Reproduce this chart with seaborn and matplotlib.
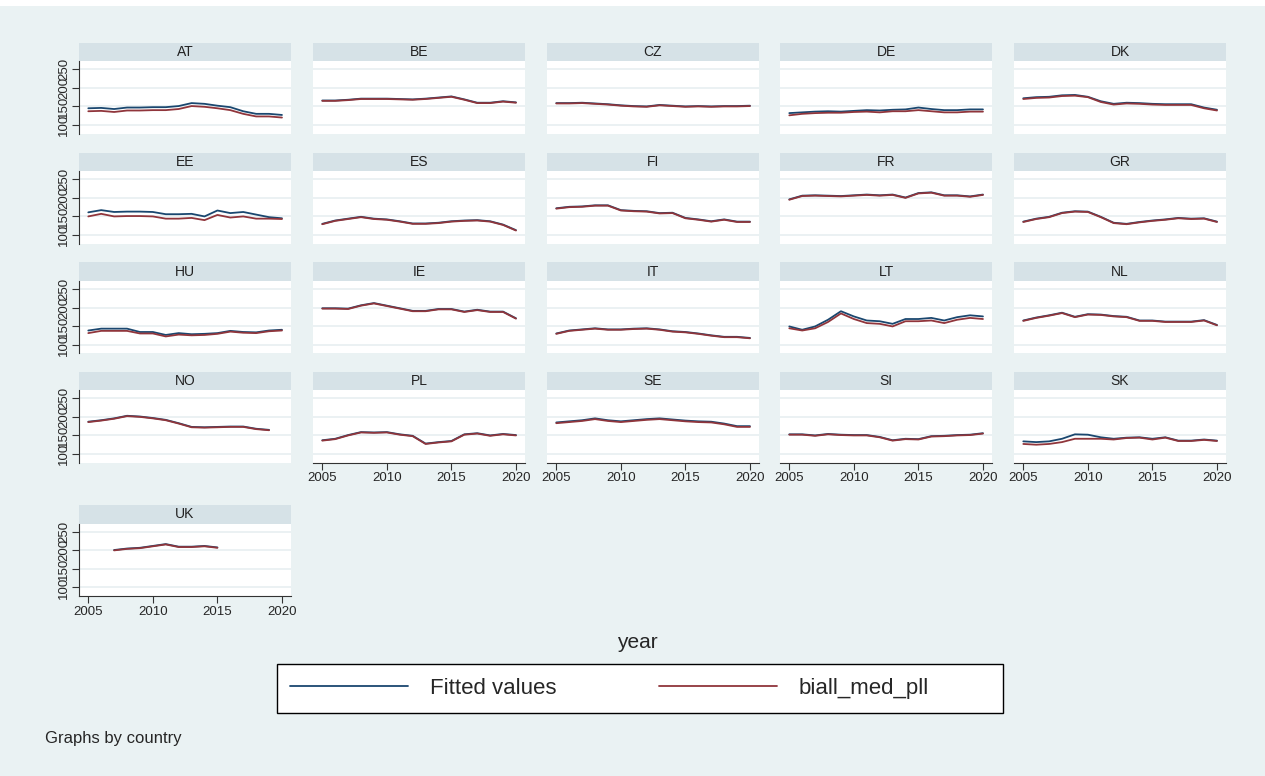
import matplotlib
matplotlib.use("Agg")
import matplotlib.pyplot as plt
import seaborn as sns
import pandas as pd
from matplotlib.lines import Line2D
from matplotlib.patches import Rectangle

# Data (index values per country, 2005-2020)
years = list(range(2005, 2021))
countries = ["AT", "BE", "CZ", "DE", "DK", "EE", "ES", "FI", "FR", "GR",
             "HU", "IE", "IT", "LT", "NL", "NO", "PL", "SE", "SI", "SK", "UK"]
series_names = ["Fitted values", "biall_med_pll"]

AT_fit = [145, 146, 143, 147, 147, 148, 148, 151, 159, 157, 152, 148, 137, 130, 130, 127]
AT_med = [137, 138, 135, 139, 139, 140, 140, 143, 151, 149, 145, 140, 130, 123, 123, 120]
BE_fit = [166, 166, 168, 171, 171, 171, 170, 169, 171, 174, 177, 169, 160, 160, 164, 161]
BE_med = [165, 165, 167, 170, 170, 170, 169, 168, 170, 173, 176, 168, 159, 159, 163, 160]
CZ_fit = [159, 159, 160, 158, 156, 153, 151, 150, 154, 152, 150, 151, 150, 151, 151, 152]
CZ_med = [158, 158, 159, 157, 155, 152, 150, 149, 153, 151, 149, 150, 149, 150, 150, 151]
DE_fit = [132, 134, 136, 137, 136, 138, 140, 139, 141, 142, 147, 143, 140, 140, 142, 142]
DE_med = [126, 130, 132, 133, 133, 135, 136, 134, 137, 137, 140, 137, 134, 134, 136, 136]
DK_fit = [172, 175, 176, 180, 181, 176, 164, 157, 160, 159, 157, 156, 156, 156, 147, 141]
DK_med = [170, 173, 174, 178, 179, 175, 162, 155, 158, 157, 155, 154, 154, 154, 145, 139]
EE_fit = [161, 167, 162, 163, 163, 162, 156, 156, 157, 150, 166, 159, 162, 155, 148, 145]
EE_med = [150, 157, 150, 151, 151, 150, 144, 144, 146, 140, 154, 147, 150, 144, 144, 143]
ES_fit = [130, 139, 144, 149, 144, 142, 137, 131, 131, 133, 137, 139, 140, 137, 128, 113]
ES_med = [129, 138, 143, 148, 143, 141, 136, 130, 130, 132, 136, 138, 139, 136, 127, 112]
FI_fit = [172, 176, 177, 180, 180, 167, 165, 164, 159, 160, 146, 142, 137, 142, 136, 136]
FI_med = [171, 175, 176, 179, 179, 166, 164, 163, 158, 159, 145, 141, 136, 141, 135, 135]
FR_fit = [196, 206, 207, 206, 205, 207, 209, 207, 209, 201, 213, 215, 207, 207, 204, 209]
FR_med = [195, 205, 206, 205, 204, 206, 208, 206, 208, 200, 212, 214, 206, 206, 203, 208]
GR_fit = [136, 144, 149, 160, 164, 163, 149, 133, 130, 135, 139, 142, 146, 144, 145, 136]
GR_med = [135, 143, 148, 159, 163, 162, 148, 132, 129, 134, 138, 141, 145, 143, 144, 135]
HU_fit = [139, 144, 144, 144, 135, 135, 127, 132, 129, 130, 132, 138, 135, 134, 139, 141]
HU_med = [132, 138, 138, 138, 131, 131, 123, 128, 126, 127, 130, 136, 133, 132, 137, 139]
IE_fit = [199, 199, 198, 207, 213, 206, 199, 192, 192, 197, 197, 190, 195, 190, 190, 172]
IE_med = [198, 198, 197, 206, 212, 205, 198, 191, 191, 196, 196, 189, 194, 189, 189, 171]
IT_fit = [131, 139, 142, 145, 142, 142, 144, 145, 142, 137, 135, 131, 126, 122, 122, 119]
IT_med = [130, 138, 141, 144, 141, 141, 143, 144, 141, 136, 134, 130, 125, 121, 121, 118]
LT_fit = [150, 141, 150, 168, 191, 177, 166, 164, 157, 170, 170, 173, 166, 175, 180, 177]
LT_med = [145, 139, 145, 162, 185, 170, 159, 157, 150, 164, 164, 166, 159, 168, 173, 170]
NL_fit = [166, 174, 180, 187, 176, 183, 182, 178, 176, 166, 166, 163, 163, 163, 167, 154]
NL_med = [165, 173, 179, 186, 175, 182, 181, 177, 175, 165, 165, 162, 162, 162, 166, 153]
NO_fit = [187, 191, 196, 203, 201, 197, 192, 183, 173, 172, 173, 174, 174, 168, 165]
NO_med = [186, 190, 195, 202, 200, 196, 191, 182, 172, 171, 172, 173, 173, 167, 164]
PL_fit = [137, 141, 151, 159, 158, 159, 153, 149, 128, 132, 135, 153, 156, 150, 154, 151]
PL_med = [136, 140, 150, 158, 157, 158, 152, 148, 127, 131, 134, 152, 155, 149, 153, 150]
SE_fit = [185, 188, 191, 196, 191, 188, 191, 194, 196, 193, 190, 188, 187, 182, 175, 175]
SE_med = [183, 186, 189, 194, 189, 186, 189, 192, 194, 191, 188, 186, 185, 180, 173, 173]
SI_fit = [153, 153, 150, 154, 152, 151, 151, 146, 137, 141, 140, 148, 149, 151, 152, 156]
SI_med = [152, 152, 149, 153, 151, 150, 150, 145, 136, 140, 139, 147, 148, 150, 151, 155]
SK_fit = [134, 132, 134, 141, 153, 152, 145, 141, 144, 145, 141, 145, 136, 136, 139, 136]
SK_med = [127, 125, 127, 132, 141, 141, 141, 139, 143, 144, 139, 144, 135, 135, 138, 135]
UK_fit = [201, 205, 207, 212, 217, 210, 210, 212, 208]
UK_med = [200, 204, 206, 211, 216, 209, 209, 211, 207]

# first year of data per country (NO ends 2019, UK covers 2007-2015)
start_year = {c: 2005 for c in countries}
start_year["UK"] = 2007

fit = {"AT": AT_fit, "BE": BE_fit, "CZ": CZ_fit, "DE": DE_fit, "DK": DK_fit,
       "EE": EE_fit, "ES": ES_fit, "FI": FI_fit, "FR": FR_fit, "GR": GR_fit,
       "HU": HU_fit, "IE": IE_fit, "IT": IT_fit, "LT": LT_fit, "NL": NL_fit,
       "NO": NO_fit, "PL": PL_fit, "SE": SE_fit, "SI": SI_fit, "SK": SK_fit,
       "UK": UK_fit}
med = {"AT": AT_med, "BE": BE_med, "CZ": CZ_med, "DE": DE_med, "DK": DK_med,
       "EE": EE_med, "ES": ES_med, "FI": FI_med, "FR": FR_med, "GR": GR_med,
       "HU": HU_med, "IE": IE_med, "IT": IT_med, "LT": LT_med, "NL": NL_med,
       "NO": NO_med, "PL": PL_med, "SE": SE_med, "SI": SI_med, "SK": SK_med,
       "UK": UK_med}

rows = []
for c in countries:
    for name, vals in zip(series_names, [fit[c], med[c]]):
        for i, v in enumerate(vals):
            rows.append({"country": c, "year": start_year[c] + i,
                         "series": name, "value": v})
df = pd.DataFrame(rows)

# Stata s2color look
bg = "#EAF2F3"
strip_col = "#D6E2E7"
grid_col = "#E8EFF1"
blue = "#1A476F"
red = "#90353B"

sns.set_style("white")
plt.rcParams["font.family"] = ["Liberation Sans", "DejaVu Sans"]

g = sns.FacetGrid(df, col="country", col_wrap=5, col_order=countries,
                  hue="series", hue_order=series_names, palette=[blue, red],
                  sharex=True, sharey=True, despine=False, height=2, aspect=2)
g.map_dataframe(sns.lineplot, x="year", y="value", linewidth=1.3, errorbar=None)
g.set_titles("")
g.set_axis_labels("", "")

fig = g.figure
W, H = 1265, 776
fig.set_size_inches(W / 100, H / 100)
fig.set_facecolor(bg)
fig.patches.append(Rectangle((0, 1 - 6 / H), 1, 6 / H, transform=fig.transFigure,
                             facecolor="white", edgecolor="none", zorder=0))

col_x = [79, 313, 547, 780, 1014]
row_top = [61, 171, 281, 390, 523.5]
pw, ph = 212, 72.5
strip_h = 18.5

for i, (ax, c) in enumerate(zip(g.axes.flat, countries)):
    r, k = divmod(i, 5)
    ax.set_position([col_x[k] / W, 1 - (row_top[r] + ph) / H, pw / W, ph / H])
    ax.set_facecolor("white")
    ax.set_xlim(2004.28, 2020.7)
    ax.set_ylim(77, 272.5)
    ax.set_xticks([2005, 2010, 2015, 2020])
    ax.set_yticks([100, 150, 200, 250])
    ax.grid(axis="y", color=grid_col, linewidth=1.2)
    ax.grid(axis="x", visible=False)
    ax.set_axisbelow(True)

    left = k == 0
    bottom = (r == 3 and k > 0) or r == 4
    for s in ax.spines.values():
        s.set_visible(False)
    ax.spines["left"].set_visible(left)
    ax.spines["bottom"].set_visible(bottom)
    ax.spines["left"].set_color("#333333")
    ax.spines["bottom"].set_color("#333333")
    ax.tick_params(axis="y", left=left, labelleft=left, labelrotation=90,
                   labelsize=9.5, length=5, pad=1.5, color="#333333")
    ax.tick_params(axis="x", bottom=bottom, labelbottom=bottom,
                   labelsize=9.5, length=5, pad=2, color="#333333")
    for lab in ax.get_yticklabels():
        lab.set_va("center")
        lab.set_visible(left)
    for lab in ax.get_xticklabels():
        lab.set_visible(bottom)
    ax.set_xlabel("")
    ax.set_ylabel("")

    frac = strip_h / ph
    ax.add_patch(Rectangle((0, 1), 1, frac, transform=ax.transAxes,
                           facecolor=strip_col, edgecolor="none", clip_on=False))
    ax.text(0.5, 1 + frac / 2, c, transform=ax.transAxes, ha="center",
            va="center", fontsize=10, color="#222222")

fig.text(637 / W, 1 - 643 / H, "year", ha="center", va="center", fontsize=15)

# legend box drawn as its own frame, entries placed inside it
fig.patches.append(Rectangle((277 / W, 1 - 713 / H), 726 / W, 49 / H,
                             transform=fig.transFigure, facecolor="white",
                             edgecolor="black", linewidth=1.0, zorder=1))
handles = [Line2D([], [], color=blue, linewidth=1.3),
           Line2D([], [], color=red, linewidth=1.3)]
fs = 16
leg = fig.legend(handles, series_names, loc="center left", ncol=2,
                 bbox_to_anchor=(290 / W, 1 - 688.5 / H),
                 frameon=False, handlelength=118 / (fs * 1.389),
                 handletextpad=22 / (fs * 1.389),
                 columnspacing=4.6, borderpad=0, borderaxespad=0,
                 fontsize=fs)
leg.set_zorder(2)

fig.text(45 / W, 1 - 738 / H, "Graphs by country", ha="left", va="center",
         fontsize=12)

fig.savefig("out.png", dpi=100, facecolor=fig.get_facecolor())
